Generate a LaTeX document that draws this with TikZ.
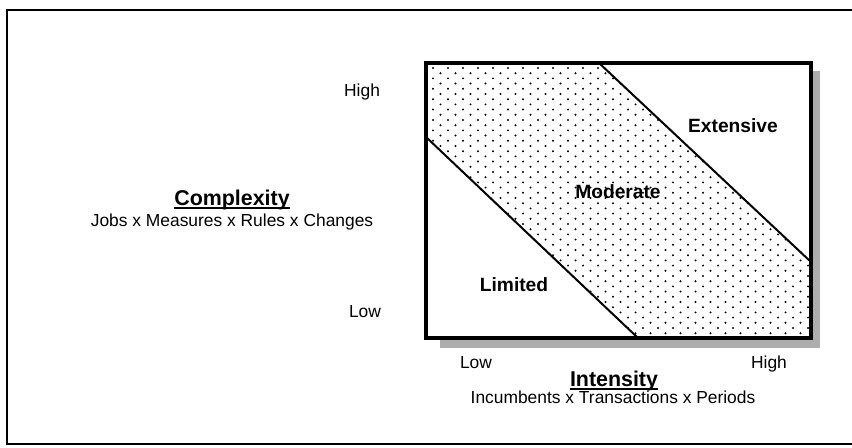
\documentclass[tikz,border=0pt]{standalone}
\usepackage{fontspec}
\setmainfont{Liberation Sans}
\usetikzlibrary{positioning}
\tikzset{
  outer/.style={draw, line width=1.25pt},
  chart/.style={draw, line width=1.75pt},
  shade/.style={fill=black!32},
  divider/.style={draw, line width=1pt},
  zone/.style={anchor=base, font=\fontsize{9.6}{11}\selectfont\bfseries},
  tick/.style={anchor=base, font=\fontsize{8.7}{10}\selectfont},
  heading/.style={anchor=base, inner sep=0pt, font=\fontsize{10.7}{12}\selectfont\bfseries},
  underbar/.style={draw, line width=0.9pt}
}

\begin{document}
\begin{tikzpicture}[x=0.5pt, y=-0.5pt]
\useasboundingbox (0,0) rectangle (852,448);
% frame round the page, open at the right
\draw[outer] (852,10) -- (7,10) -- (7,444) -- (852,444);

\coordinate (nw) at (426,63);
\coordinate (se) at (811,338);
\coordinate (lowL) at (426,137);
\coordinate (lowB) at (638,338);
\coordinate (highT) at (599,63);
\coordinate (highR) at (811,262);

% shadow and chart area
\fill[shade] (440,71) rectangle (820,348);
\fill[white] (nw) rectangle (se);
\begin{scope}
  \clip (nw) -- (highT) -- (highR) -- (se) -- (lowB) -- (lowL) -- cycle;
  \foreach \r in {0,...,54}{
    \foreach \c in {0,...,26}{
      \fill ({418+15*\c+7.5*mod(\r,2)},{68+5.2*\r}) circle (0.55pt);
    }
  }
\end{scope}
\draw[divider] (lowL) -- (lowB);
\draw[divider] (highT) -- (highR);
\draw[chart] (nw) rectangle (se);

% zones
\node[zone] (extensive) at (733,133) {Extensive};
\node[zone] (moderate) at (618,199) {Moderate};
\node[zone] (limited) at (514,292) {Limited};

% vertical axis
\node[tick, anchor=base east] (yhigh) at (387,97) {High};
\node[tick, anchor=base east] (ylow) at (388,318) {Low};
\node[heading] (complexity) at (232,206) {Complexity};
\draw[underbar] ([yshift=-0.9pt]complexity.base west) -- ([yshift=-0.9pt]complexity.base east);
\node[tick] (complexityterms) at (232,227) {Jobs x Measures x Rules x Changes};

% horizontal axis
\node[tick] (xlow) at (476,369) {Low};
\node[tick] (xhigh) at (769,369) {High};
\node[heading] (intensity) at (614,387) {Intensity};
\draw[underbar] ([yshift=-0.9pt]intensity.base west) -- ([yshift=-0.9pt]intensity.base east);
\node[tick] (intensityterms) at (613,404) {Incumbents x Transactions x Periods};
\end{tikzpicture}
\end{document}
